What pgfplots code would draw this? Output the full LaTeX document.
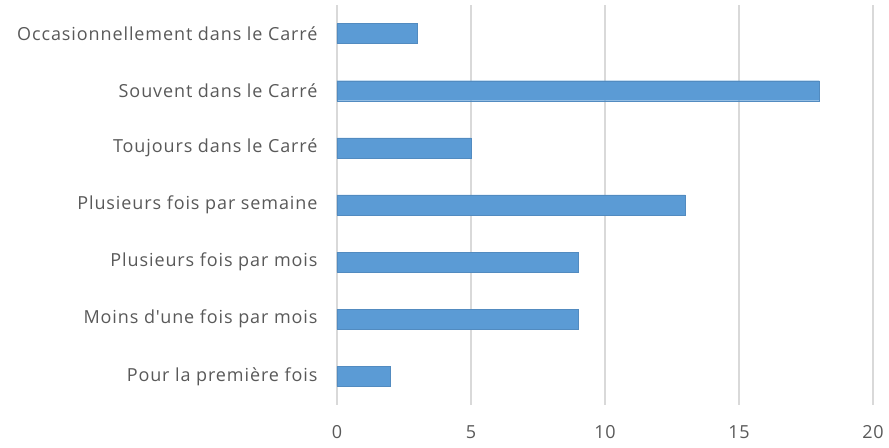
\documentclass[border=0pt]{standalone}
\usepackage{pgfplots}
\pgfplotsset{compat=1.18}
\usepackage{fontspec}
\setmainfont{Open Sans}[LetterSpace=5, Ligatures=TeXOff]
\definecolor{barblue}{HTML}{5B9BD5}
\definecolor{gridgray}{HTML}{D9D9D9}
\definecolor{txtgray}{HTML}{595959}
\begin{document}
\begin{tikzpicture}
\begin{axis}[
  name=ax,
  scale only axis,
  width=536bp, height=400bp,
  xbar, bar width=20bp,
  xmin=0, xmax=20,
  ymin=-0.5, ymax=6.5,
  xtick={0,5,10,15,20},
  ytick={0,1,2,3,4,5,6},
  yticklabels={Pour la première fois,Moins d'une fois par mois,Plusieurs fois par mois,Plusieurs fois par semaine,Toujours dans le Carré,Souvent dans le Carré,Occasionnellement dans le Carré},
  axis line style={draw=none},
  major tick length=0pt,
  xmajorgrids, grid style={gridgray, line width=1.3bp},
  extra x ticks={0}, extra x tick labels={},
  extra x tick style={grid style={gridgray, line width=1.3bp}},
  tick label style={font=\fontsize{18bp}{21bp}\selectfont, text=txtgray},
  /pgf/number format/assume math mode=true,
  yticklabel style={xshift=-16bp},
  xticklabel style={yshift=-17bp},
]
\addplot[fill=barblue, draw=barblue!90!black, line width=0.4bp] coordinates {(2,0) (9,1) (9,2) (13,3) (5,4) (18,5) (3,6)};
\end{axis}
\path (ax.south west) ++(-337bp,-43bp) rectangle ([xshift=16bp,yshift=5bp]ax.north east);
\end{tikzpicture}
\end{document}
